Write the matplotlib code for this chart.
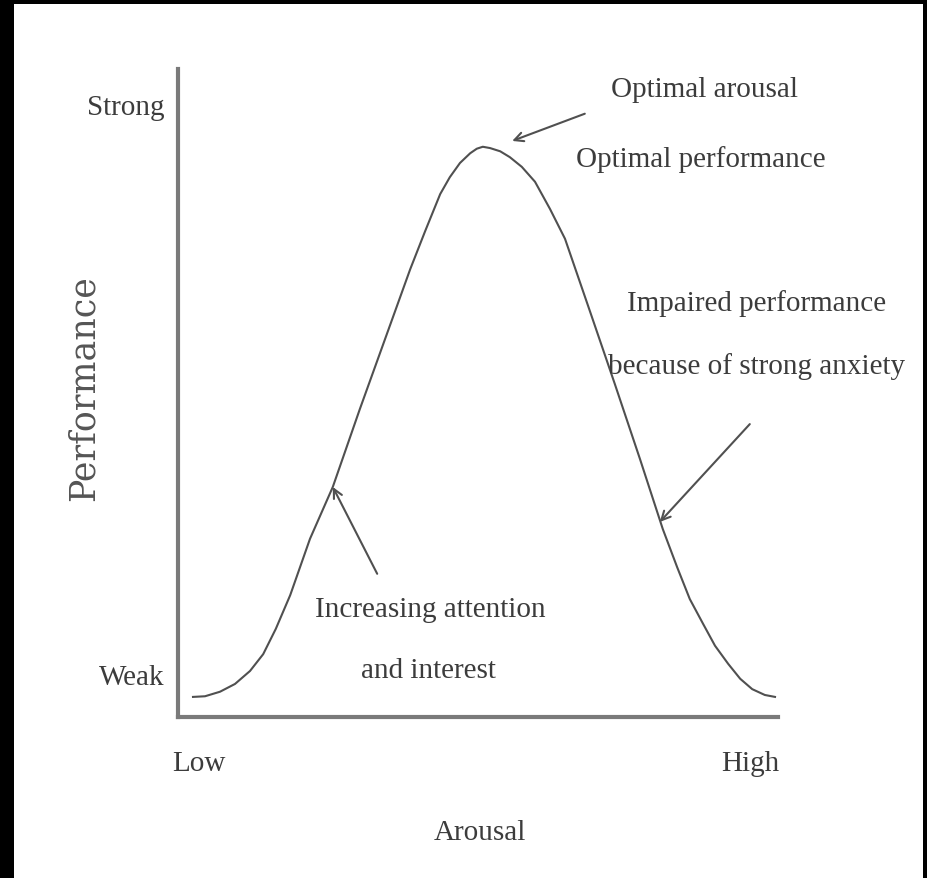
import matplotlib.pyplot as plt
from matplotlib.patches import Rectangle

# Yerkes-Dodson style curve (arbitrary units)
arousal = [0.25, 0.45, 0.70, 0.95, 1.20, 1.42, 1.63, 1.87, 2.20, 2.58, 3.03,
           3.45, 3.87, 4.12, 4.37, 4.53, 4.70, 4.87, 4.98, 5.08, 5.20, 5.37,
           5.53, 5.73, 5.95, 6.20, 6.45, 6.87, 7.28, 7.70, 8.08, 8.32, 8.53,
           8.75, 8.95, 9.17, 9.37, 9.57, 9.78, 9.95]
performance = [0.31, 0.32, 0.39, 0.51, 0.71, 0.97, 1.36, 1.88, 2.75, 3.55, 4.75,
               5.83, 6.91, 7.50, 8.07, 8.33, 8.55, 8.70, 8.77, 8.80, 8.78, 8.73,
               8.64, 8.49, 8.26, 7.84, 7.38, 6.25, 5.14, 3.98, 2.90, 2.31, 1.82,
               1.44, 1.10, 0.82, 0.59, 0.43, 0.34, 0.31]

x_tick_pos = [0.35, 9.53]
x_tick_labels = ['Low', 'High']
y_tick_pos = [0.66, 9.46]
y_tick_labels = ['Weak', 'Strong']

# annotation text and where it sits
notes = [
    ('Optimal arousal', (8.77, 9.69)),
    ('Optimal performance', (8.72, 8.62)),
    ('Impaired performance', (9.65, 6.40)),
    ('because of strong anxiety', (9.65, 5.42)),
    ('Increasing attention', (4.20, 1.67)),
    ('and interest', (4.17, 0.72)),
]
# arrows: tip, tail
arrows = [
    ((5.57, 8.89), (6.78, 9.31)),
    ((2.58, 3.55), (3.32, 2.21)),
    ((8.03, 3.01), (9.53, 4.52)),
]

serif = 'Liberation Serif'
ink = '#3c3c3c'

fig = plt.figure(figsize=(9.28, 8.79), dpi=100)
fig.patch.set_facecolor('black')
fig.add_artist(Rectangle((14 / 928, 0), (923 - 14) / 928, (879 - 5) / 879,
                         transform=fig.transFigure, facecolor='white',
                         edgecolor='none', zorder=0))

ax = fig.add_axes([178 / 928, 161 / 879, 600 / 928, 648 / 879])
ax.set_facecolor('none')
ax.plot(arousal, performance, color='#505050', lw=1.5,
        solid_joinstyle='round')

ax.set_xlim(0, 10)
ax.set_ylim(0, 10)
for side in ['top', 'right']:
    ax.spines[side].set_visible(False)
for side in ['left', 'bottom']:
    ax.spines[side].set_color('#7a7a7a')
    ax.spines[side].set_linewidth(3)

ax.set_xticks(x_tick_pos)
ax.set_xticklabels(x_tick_labels, fontfamily=serif, fontsize=21, color=ink)
ax.set_yticks(y_tick_pos)
ax.set_yticklabels(y_tick_labels, fontfamily=serif, fontsize=21, color=ink)
ax.tick_params(axis='x', length=0, pad=24)
ax.tick_params(axis='y', length=0, pad=10)

ax.set_xlabel('Arousal', fontfamily=serif, fontsize=21, color=ink)
ax.xaxis.set_label_coords(0.503, -0.177)
ax.xaxis.label.set_va('center')
ax.set_ylabel('Performance', fontfamily='DejaVu Serif', fontsize=25,
              color='#555555', va='center')
ax.yaxis.set_label_coords(-0.158, 0.509)

for txt, (tx, ty) in notes:
    ax.text(tx, ty, txt, ha='center', va='center', fontfamily=serif,
            fontsize=21, color=ink, clip_on=False)

for tip, tail in arrows:
    ax.annotate('', xy=tip, xytext=tail,
                arrowprops=dict(arrowstyle='->', color='#505050', lw=1.5,
                                mutation_scale=16, shrinkA=0, shrinkB=0))

fig.savefig('out.png', dpi=100, facecolor=fig.get_facecolor())
